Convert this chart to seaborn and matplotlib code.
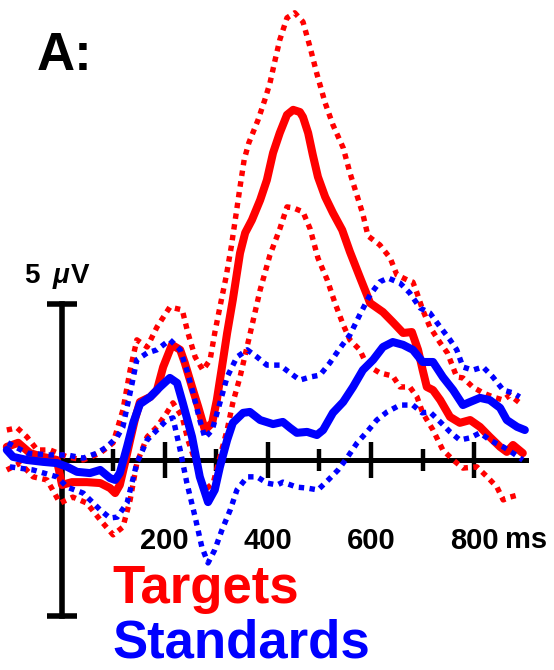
import matplotlib
matplotlib.use("Agg")
import matplotlib.pyplot as plt
import pandas as pd
import seaborn as sns

# ---------------- data (time in ms, amplitude in microvolts) ----------------
targets_mean_ms = [-106, -84, -61, -36, -9, 1, 20, 49, 75, 94, 104, 113, 123, 133, 142, 152, 172, 185, 197, 214,
                   230, 239, 253, 265, 278, 292, 301, 311, 321, 332, 346, 356, 369, 385, 398, 410, 423, 437, 449, 462,
                   468, 478, 487, 497, 511, 526, 544, 559, 578, 592, 598, 623, 642, 662, 679, 691, 700, 708, 720, 734,
                   753, 772, 792, 811, 830, 850, 863, 875, 894]
targets_mean_uv = [0.42, 0.55, 0.22, 0.10, 0.0, -0.80, -0.71, -0.71, -0.74, -0.90, -1.06, -0.80, -0.10, 0.64, 1.28,
                   1.86, 2.02, 2.24, 2.98, 3.69, 3.53, 3.11, 2.34, 1.70, 0.96, 1.19, 1.92, 2.98, 4.07, 5.13, 6.63,
                   7.28, 7.69, 8.33, 8.97, 9.84, 10.48, 11.06, 11.22, 11.15, 10.99, 10.48, 9.78, 9.07, 8.43, 7.92,
                   7.37, 6.67, 5.87, 5.29, 5.03, 4.74, 4.42, 4.07, 4.10, 3.53, 2.88, 2.34, 2.24, 1.92, 1.38, 1.19,
                   1.28, 1.06, 0.74, 0.42, 0.26, 0.48, 0.22]

targets_upper_ms = [-106, -86, -67, -47, -22, 11, 42, 75, 100, 119, 133, 146, 166, 185, 210, 234, 245, 259, 274, 288,
                    297, 307, 319, 329, 338, 346, 354, 363, 381, 394, 404, 414, 423, 437, 452, 468, 482, 495, 511,
                    526, 546, 559, 573, 584, 594, 617, 637, 650, 670, 681, 689, 700, 714, 734, 748, 766, 778, 797,
                    817, 836, 856, 869, 888]
targets_upper_uv = [0.96, 1.03, 0.74, 0.32, 0.32, 0.10, 0.0, 0.22, 0.55, 1.60, 2.88, 3.85, 3.62, 4.26, 4.90, 4.81,
                    4.07, 3.30, 2.88, 3.21, 4.07, 4.90, 5.87, 6.83, 7.84, 8.75, 9.62, 10.16, 10.90, 11.54, 12.08,
                    12.82, 13.46, 14.17, 14.33, 14.04, 13.21, 12.37, 11.44, 10.74, 10.0, 9.20, 8.46, 7.88, 7.18,
                    6.89, 6.47, 5.93, 5.77, 5.70, 5.35, 4.81, 4.26, 3.75, 3.43, 2.66, 2.63, 2.34, 2.15, 2.02, 1.92,
                    2.08, 1.83]

targets_lower_ms = [-106, -80, -55, -28, -3, 22, 49, 75, 100, 119, 133, 146, 166, 185, 204, 216, 234, 245, 263, 278,
                    294, 307, 321, 332, 346, 365, 385, 404, 423, 437, 449, 468, 482, 497, 515, 530, 546, 559, 578,
                    592, 617, 642, 656, 675, 689, 700, 720, 739, 759, 778, 805, 825, 844, 856, 869, 885]
targets_lower_uv = [-0.32, -0.10, -0.54, -0.64, -1.38, -1.19, -1.38, -1.92, -2.40, -2.15, -1.28, -0.10, 0.74, 1.06,
                    1.51, 1.83, 1.38, 0.64, -0.22, -0.96, -0.74, 0.10, 0.96, 1.83, 2.66, 4.01, 5.45, 6.57, 7.40,
                    8.11, 8.08, 7.95, 7.40, 6.47, 5.77, 5.03, 4.33, 3.85, 3.53, 3.04, 2.79, 2.69, 2.34, 2.34, 2.02,
                    1.51, 0.96, 0.32, 0.0, -0.26, -0.22, -0.54, -0.87, -1.28, -1.19, -1.12]

standards_mean_ms = [-106, -94, -67, -36, -9, 11, 30, 55, 75, 94, 104, 113, 127, 139, 152, 172, 191, 210, 224, 235,
                     253, 268, 284, 297, 307, 321, 332, 352, 365, 385, 410, 429, 443, 456, 476, 495, 507, 526, 546,
                     565, 584, 604, 623, 642, 662, 681, 700, 720, 739, 759, 778, 792, 811, 830, 850, 863, 883, 898]
standards_mean_uv = [0.32, 0.10, 0.0, -0.06, -0.10, -0.22, -0.38, -0.42, -0.32, -0.58, -0.64, -0.42, 0.42, 1.19,
                     1.79, 2.02, 2.34, 2.63, 2.47, 1.83, 0.74, -0.54, -1.35, -0.96, -0.22, 0.64, 1.19, 1.51, 1.54,
                     1.28, 1.15, 1.22, 1.03, 0.87, 0.90, 0.80, 0.96, 1.51, 1.86, 2.34, 2.88, 3.21, 3.62, 3.78, 3.69,
                     3.53, 3.14, 3.14, 2.66, 2.24, 1.76, 1.86, 1.99, 1.92, 1.67, 1.28, 1.06, 0.96]

standards_upper_ms = [-104, -67, -22, 11, 42, 69, 88, 108, 119, 137, 146, 166, 185, 210, 230, 243, 255, 268, 278,
                      292, 307, 321, 340, 360, 379, 398, 423, 443, 462, 482, 501, 520, 540, 559, 578, 598, 617, 633,
                      656, 675, 695, 714, 734, 753, 766, 778, 797, 817, 836, 856, 875, 888]
standards_upper_uv = [0.55, 0.22, 0.16, 0.16, 0.06, 0.22, 0.42, 0.74, 1.06, 2.47, 3.21, 3.43, 3.53, 3.85, 3.53,
                      2.88, 2.15, 1.28, 0.71, 0.96, 1.83, 2.66, 3.30, 3.53, 3.30, 3.04, 3.04, 2.79, 2.56, 2.66,
                      2.72, 3.11, 3.59, 4.01, 4.65, 5.29, 5.71, 5.83, 5.67, 5.35, 4.87, 4.71, 4.26, 3.85, 3.53,
                      2.98, 2.88, 2.98, 2.66, 2.24, 2.15, 2.02]

standards_lower_ms = [-100, -55, -9, 11, 42, 75, 94, 108, 127, 146, 166, 185, 204, 216, 230, 243, 259, 272, 284,
                      297, 311, 327, 340, 360, 379, 398, 418, 429, 456, 476, 497, 517, 536, 553, 573, 592, 611, 631,
                      656, 681, 699, 714, 734, 753, 772, 792, 811, 830, 856, 875, 894]
standards_lower_uv = [-0.22, -0.32, -0.54, -0.87, -1.06, -1.60, -1.86, -1.83, -1.38, -0.10, 0.64, 0.96, 1.28, 1.35,
                      0.32, -0.74, -1.83, -2.79, -3.30, -2.88, -2.24, -1.60, -0.96, -0.54, -0.54, -0.74, -0.80,
                      -0.71, -0.87, -0.90, -0.96, -0.64, -0.32, 0.06, 0.55, 0.90, 1.28, 1.54, 1.76, 1.76, 1.51,
                      1.54, 1.22, 0.90, 0.64, 0.71, 0.87, 0.64, 0.42, 0.22, 0.0]

x_major_ticks = [200, 400, 600, 800]
x_minor_ticks = [100, 300, 500, 700]
x_tick_labels = ["200", "400", "600", "800"]
x_unit = "ms"
scale_bar_uv = 5
legend_labels = ["Targets", "Standards"]
panel_label = "A:"

RED = "#ff0000"
BLUE = "#0000ff"
INK = "#000000"

# ---------------- styling ----------------
sns.set_theme(style="white")
plt.rcParams["font.family"] = ["Liberation Sans", "DejaVu Sans"]
plt.rcParams["font.weight"] = "bold"
plt.rcParams["text.color"] = INK
plt.rcParams["xtick.color"] = INK
plt.rcParams["ytick.color"] = INK
plt.rcParams["axes.edgecolor"] = INK

fig = plt.figure(figsize=(5.54, 6.70), dpi=100)
fig.patch.set_facecolor("white")
ax = fig.add_axes([0, 0, 1, 1])
ax.patch.set_alpha(0)

DOT = (0, (1, 1))


def draw(ms, uv, color, ls, lw):
    df = pd.DataFrame({"ms": ms, "uv": uv})
    sns.lineplot(data=df, x="ms", y="uv", color=color, linestyle=ls, linewidth=lw,
                 estimator=None, sort=False, ax=ax, zorder=3,
                 solid_joinstyle="round", dash_joinstyle="round")


draw(targets_upper_ms, targets_upper_uv, RED, DOT, 3.9)
draw(targets_lower_ms, targets_lower_uv, RED, DOT, 3.9)
draw(targets_mean_ms, targets_mean_uv, RED, "-", 5.8)
draw(standards_upper_ms, standards_upper_uv, BLUE, DOT, 3.9)
draw(standards_lower_ms, standards_lower_uv, BLUE, DOT, 3.9)
draw(standards_mean_ms, standards_mean_uv, BLUE, "-", 5.8)

ax.set_xlim(-119.2, 954.5)
ax.set_ylim(-6.73, 14.74)
ax.set_xlabel("")
ax.set_ylabel("")

# axes drawn through the origin
for s in ["top", "right"]:
    ax.spines[s].set_visible(False)
ax.spines["bottom"].set_position(("data", 0))
ax.spines["bottom"].set_bounds(0, 900)
ax.spines["bottom"].set_linewidth(3.6)
ax.spines["bottom"].set_color(INK)
ax.spines["left"].set_position(("data", 0))
ax.spines["left"].set_bounds(-scale_bar_uv, scale_bar_uv)
ax.spines["left"].set_linewidth(4.0)
ax.spines["left"].set_color(INK)

ax.set_xticks(x_major_ticks)
ax.set_xticklabels(x_tick_labels)
ax.set_xticks(x_minor_ticks, minor=True)
ax.tick_params(axis="x", which="major", bottom=True, direction="inout", length=26, width=3.2,
               color=INK, pad=35, labelsize=21, labelcolor=INK)
ax.tick_params(axis="x", which="minor", bottom=True, direction="inout", length=16, width=3.2, color=INK)
ax.set_yticks([-scale_bar_uv, scale_bar_uv])
ax.set_yticklabels([])
ax.tick_params(axis="y", which="major", left=True, direction="inout", length=22, width=4.0, color=INK)
for lab in ax.get_xticklabels():
    lab.set_fontweight("bold")
    lab.set_color(INK)

# unit after last tick label
ax.annotate(x_unit, xy=(x_major_ticks[-1], 0), xytext=(22.3, -63.4), textcoords="offset points",
            ha="left", va="baseline", fontsize=21, fontweight="bold", color=INK)

# scale bar label "5 μV"
ax.annotate(str(scale_bar_uv), xy=(0, scale_bar_uv), xytext=(-21.6, 15), textcoords="offset points",
            ha="center", va="baseline", fontsize=20, fontweight="bold", color=INK)
ax.annotate("\u03bc", xy=(0, scale_bar_uv), xytext=(-0.7, 15), textcoords="offset points",
            ha="center", va="baseline", fontsize=20, fontweight="bold", fontstyle="italic", color=INK)
ax.annotate("V", xy=(0, scale_bar_uv), xytext=(13.7, 15), textcoords="offset points",
            ha="center", va="baseline", fontsize=20, fontweight="bold", color=INK)

# panel label and legend text
fig.text(37 / 554, 1 - 70 / 670, panel_label, fontsize=38, fontweight="bold", ha="left", va="baseline",
         color=INK)
fig.text(112 / 554, 1 - 603 / 670, legend_labels[0], fontsize=38, fontweight="bold", color=RED,
         ha="left", va="baseline")
fig.text(112 / 554, 1 - 658 / 670, legend_labels[1], fontsize=38, fontweight="bold", color=BLUE,
         ha="left", va="baseline")

fig.savefig("out.png", dpi=100, facecolor="white")
